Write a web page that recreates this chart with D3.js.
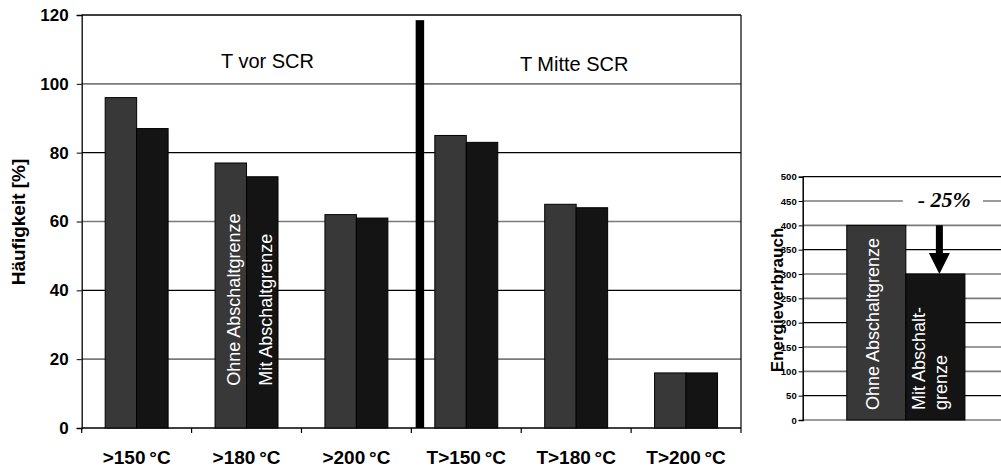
<!DOCTYPE html>
<html>
<head>
<meta charset="utf-8">
<script src="https://cdn.jsdelivr.net/npm/d3@7"></script>
<style>
  body { margin: 0; background: #fff; }
  svg { display: block; font-family: Arial, "Liberation Sans", sans-serif; }
</style>
</head>
<body>
<svg id="chart" width="1001" height="473"></svg>
<script>
// main chart data
const categories = ['>150\u2009°C', '>180\u2009°C', '>200\u2009°C', 'T>150\u2009°C', 'T>180\u2009°C', 'T>200\u2009°C'];
const seriesNames = ['Ohne Abschaltgrenze', 'Mit Abschaltgrenze'];
const ohneValues = [96, 77, 62, 85, 65, 16];
const mitValues = [87, 73, 61, 83, 64, 16];
const yTicks = [0, 20, 40, 60, 80, 100, 120];
const separatorValue = 118.5;
const groupLabels = ['T vor SCR', 'T Mitte SCR'];

// side chart data
const energyCategories = ['Ohne', 'Mit'];
const energyValues = [400, 300];
const energyTicks = [0, 50, 100, 150, 200, 250, 300, 350, 400, 450, 500];
const energyLabel = '- 25%';

const colors = ['#383838', '#141414'];
const svg = d3.select('#chart');

// ---------- main chart ----------
const mLeft = 81.7, mRight = 741, mTop = 15, mBottom = 428;
const x = d3.scaleBand().domain(categories).range([mLeft, mRight]);
const xInner = d3.scaleBand().domain(seriesNames).range([0, x.bandwidth()]).paddingOuter(0.746);
const y = d3.scaleLinear().domain([0, 120]).range([mBottom, mTop]);

// gridlines
svg.append('g').selectAll('line')
   .data(yTicks.filter(d => d > 0))
   .enter().append('line')
   .attr('x1', mLeft).attr('x2', mRight)
   .attr('y1', d => y(d)).attr('y2', d => y(d))
   .attr('stroke', d => (d % 40 === 0) ? '#000' : '#7a7a7a')
   .attr('stroke-width', d => (d % 40 === 0) ? 1.2 : 1.6);

// y axis
const yAxis = svg.append('g')
   .attr('transform', `translate(${mLeft},0)`)
   .call(d3.axisLeft(y).tickValues(yTicks).tickSize(5).tickPadding(8));
yAxis.select('.domain').attr('stroke', '#000').attr('stroke-width', 1.3);
yAxis.selectAll('line').attr('stroke', '#000');
yAxis.selectAll('text').attr('font-size', 17).attr('font-weight', 'bold')
   .attr('fill', '#000').attr('font-family', 'Arial, "Liberation Sans", sans-serif');

// x axis
const xAxis = svg.append('g')
   .attr('transform', `translate(0,${mBottom})`)
   .call(d3.axisBottom(x).tickSize(0).tickPadding(23));
xAxis.select('.domain').remove();
xAxis.selectAll('text').attr('font-size', 19).attr('font-weight', 'bold')
   .attr('fill', '#000').attr('font-family', 'Arial, "Liberation Sans", sans-serif');
svg.append('line')
   .attr('x1', mLeft).attr('x2', mRight).attr('y1', mBottom).attr('y2', mBottom)
   .attr('stroke', '#000').attr('stroke-width', 1.3);
svg.append('g').selectAll('line')
   .data(categories.map(c => x(c)).concat([mRight]))
   .enter().append('line')
   .attr('x1', d => d).attr('x2', d => d)
   .attr('y1', mBottom).attr('y2', mBottom + 5)
   .attr('stroke', '#000').attr('stroke-width', 1.2);

// top + right border
svg.append('line').attr('x1', mLeft).attr('x2', mRight).attr('y1', mTop).attr('y2', mTop)
   .attr('stroke', '#000').attr('stroke-width', 1.2);
svg.append('line').attr('x1', mRight).attr('x2', mRight).attr('y1', mTop).attr('y2', mBottom)
   .attr('stroke', '#000').attr('stroke-width', 1.2);

// bars
const rows = categories.map((c, i) => ({cat: c, values: [ohneValues[i], mitValues[i]]}));
svg.append('g').selectAll('g')
   .data(rows)
   .enter().append('g')
   .attr('transform', d => `translate(${x(d.cat)},0)`)
   .selectAll('rect')
   .data(d => d.values.map((v, j) => ({name: seriesNames[j], value: v, j: j})))
   .enter().append('rect')
   .attr('x', d => xInner(d.name))
   .attr('y', d => y(d.value))
   .attr('width', xInner.bandwidth())
   .attr('height', d => y(0) - y(d.value))
   .attr('fill', d => colors[d.j])
   .attr('stroke', '#000')
   .attr('stroke-width', 1);

// separator bar between groups
svg.append('rect')
   .attr('x', x(categories[3]) + 4.3)
   .attr('y', y(separatorValue))
   .attr('width', 8.5)
   .attr('height', y(0) - y(separatorValue))
   .attr('fill', '#000');

// group labels
svg.append('text')
   .attr('x', x(categories[1]) + x.bandwidth() / 2 + 21)
   .attr('y', 68)
   .attr('text-anchor', 'middle')
   .attr('font-size', 20)
   .text(groupLabels[0]);
svg.append('text')
   .attr('x', x(categories[4]) + x.bandwidth() / 2 - 2)
   .attr('y', 71)
   .attr('text-anchor', 'middle')
   .attr('font-size', 20)
   .text(groupLabels[1]);

// series names inside >180 bars
seriesNames.forEach((name, j) => {
  const cx = x(categories[1]) + xInner(name) + xInner.bandwidth() / 2 + 9.5;
  svg.append('text')
     .attr('transform', `translate(${cx},${385.7}) rotate(-90)`)
     .attr('font-size', 18)
     .attr('fill', '#fff')
     .text(name);
});

// y title
svg.append('text')
   .attr('transform', `translate(${25},${222}) rotate(-90)`)
   .attr('text-anchor', 'middle')
   .attr('font-size', 19)
   .attr('font-weight', 'bold')
   .text('Häufigkeit [%]');

// ---------- energy chart ----------
const eLeft = 802.7, eRight = 1009, eTop = 176.7, eBottom = 420;
const ex = d3.scaleBand().domain(energyCategories).range([eLeft, eRight]).paddingOuter(0.746);
const ey = d3.scaleLinear().domain([0, 500]).range([eBottom, eTop]);

svg.append('g').selectAll('line')
   .data(energyTicks)
   .enter().append('line')
   .attr('x1', eLeft).attr('x2', eRight)
   .attr('y1', d => ey(d)).attr('y2', d => ey(d))
   .attr('stroke', d => ((d - 50) % 150 === 0) ? '#000' : '#7a7a7a')
   .attr('stroke-width', d => ((d - 50) % 150 === 0) ? 1.2 : 1.6);

svg.append('g').selectAll('rect')
   .data(energyValues)
   .enter().append('rect')
   .attr('x', (d, i) => ex(energyCategories[i]))
   .attr('y', d => ey(d))
   .attr('width', ex.bandwidth())
   .attr('height', d => ey(0) - ey(d))
   .attr('fill', (d, i) => colors[i])
   .attr('stroke', '#000')
   .attr('stroke-width', 1);

const eAxis = svg.append('g')
   .attr('transform', `translate(${eLeft},0)`)
   .call(d3.axisLeft(ey).tickValues(energyTicks).tickSize(4).tickPadding(2));
eAxis.select('.domain').attr('stroke', '#000').attr('stroke-width', 1.5);
eAxis.selectAll('line').attr('stroke', '#000');
eAxis.selectAll('text').attr('font-size', 9.5).attr('font-weight', 'bold')
   .attr('fill', '#000').attr('font-family', 'Arial, "Liberation Sans", sans-serif');

// white text inside bars
const ohneX = ex('Ohne') + ex.bandwidth() / 2 + 3;
svg.append('text')
   .attr('transform', `translate(${ohneX},${410}) rotate(-90)`)
   .attr('font-size', 18).attr('fill', '#fff')
   .text('Ohne Abschaltgrenze');
const mitX = ex('Mit') + ex.bandwidth() / 2 - 10;
svg.append('text')
   .attr('transform', `translate(${mitX},${410}) rotate(-90)`)
   .attr('font-size', 18).attr('fill', '#fff')
   .selectAll('tspan')
   .data(['Mit Abschalt-', 'grenze'])
   .enter().append('tspan')
   .attr('x', 0)
   .attr('dy', (d, i) => i === 0 ? 0 : 22)
   .text(d => d);

// reduction arrow
const ax = ex('Mit') + ex.bandwidth() / 2 + 4;
const headTop = ey(energyValues[1]) - 21;
svg.append('path')
   .attr('d', `M${ax - 3.5},${ey(energyValues[0])} L${ax + 3.5},${ey(energyValues[0])} L${ax + 3.5},${headTop}
               L${ax + 10.5},${headTop} L${ax},${ey(energyValues[1])} L${ax - 10.5},${headTop}
               L${ax - 3.5},${headTop} Z`)
   .attr('fill', '#000');

// -25% label on white box
const lbl = svg.append('text')
   .attr('x', ax + 5)
   .attr('y', 207)
   .attr('text-anchor', 'middle')
   .attr('font-family', '"Liberation Serif", "Times New Roman", serif')
   .attr('font-size', 22)
   .attr('font-weight', 'bold')
   .attr('font-style', 'italic')
   .text(energyLabel);
const bb = lbl.node().getBBox();
svg.append('rect')
   .attr('x', bb.x - 15).attr('y', bb.y)
   .attr('width', bb.width + 27).attr('height', bb.height)
   .attr('fill', '#fff');
lbl.raise();

// energy title
svg.append('text')
   .attr('transform', `translate(${783},${300}) rotate(-90)`)
   .attr('text-anchor', 'middle')
   .attr('font-size', 17)
   .attr('font-weight', 'bold')
   .text('Energieverbrauch');
</script>
</body>
</html>
